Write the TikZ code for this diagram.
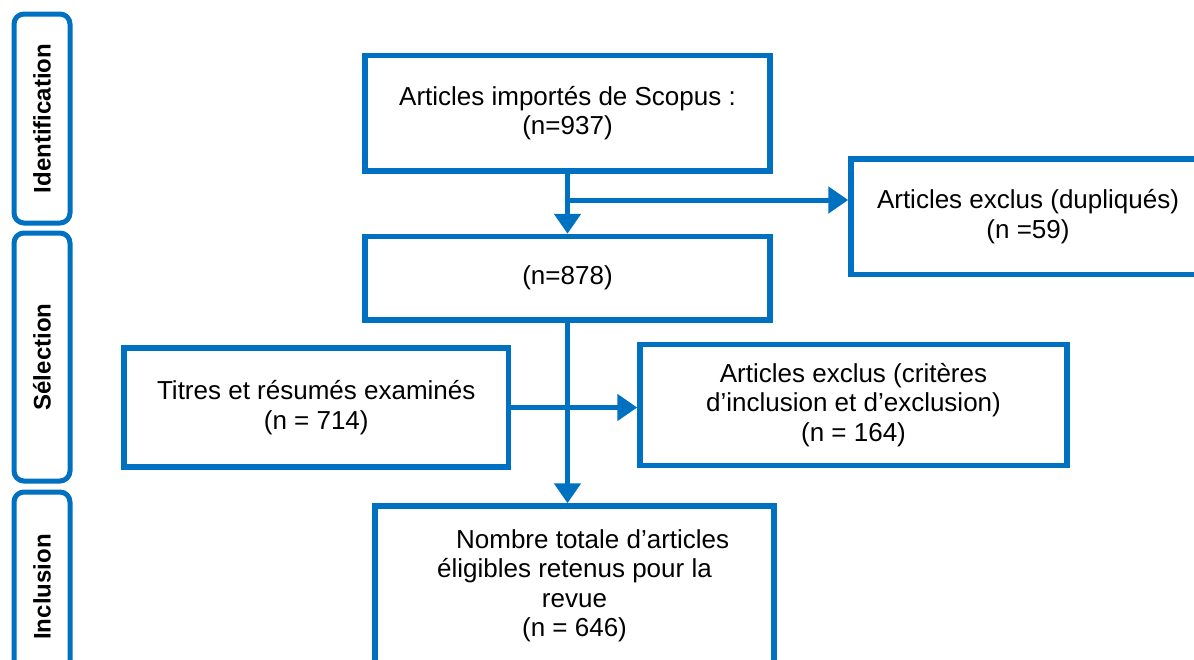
\documentclass[tikz,border=0pt]{standalone}
\usepackage{fontspec}
\setmainfont{Liberation Sans}
\usetikzlibrary{arrows.meta}
\definecolor{flowblue}{RGB}{0,112,192}

\begin{document}
\begin{tikzpicture}[x=1pt,y=-1pt,
  box/.style={draw=flowblue,line width=5.5pt,align=center,inner sep=0pt,
    font=\fontsize{26}{29.5}\selectfont},
  phase/.style={draw=flowblue,line width=5pt,rounded corners=10pt,inner sep=0pt,
    minimum height=56pt,rotate=90,font=\bfseries\fontsize{24}{28}\selectfont},
  flow/.style={draw=flowblue,line width=5pt,-{Triangle[length=20pt,width=26pt]}}]
\useasboundingbox (0,0) rectangle (1194,659);
\clip (0,0) rectangle (1194,659); %page

% phases on the left
\node[phase,minimum width=209pt] (identification) at (42,118.5) {Identification};
\node[phase,minimum width=248pt] (selection) at (42,357) {Sélection};
\node[phase,minimum width=190pt] (inclusion) at (42,587) {Inclusion};

% boxes
\node[box,minimum width=405pt,minimum height=115.5pt] (imported) at (567.5,113.25)
  {Articles importés de Scopus :\\(n=937)};
\node[box,minimum width=405pt,minimum height=83.5pt] (screened) at (567.5,278.25)
  {(n=878)};
\node[box,minimum width=354pt,minimum height=115.5pt] (duplicates) at (1028,216.75)
  {Articles exclus (dupliqués)\\(n =59)};
\node[box,minimum width=384.5pt,minimum height=119pt] (titles) at (316.25,407.5)
  {Titres et résumés examinés\\(n = 714)};
\node[box,minimum width=427pt,minimum height=121pt] (excluded) at (853.5,405)
  {Articles exclus (critères\\d’inclusion et d’exclusion)\\(n = 164)};
\node[box,minimum width=399pt,minimum height=160pt] (included) at (574.5,586)
  {\hspace*{1.4em}Nombre totale d’articles\\éligibles retenus pour la\\revue\\(n = 646)};

% arrows
\coordinate (split) at (567.5,200);
\draw[flow] (imported) -- (screened);
\draw[flow] (split) -- (split -| duplicates.west); %dupliques
\draw[flow] (screened) -- (screened.south |- included.north);
\draw[flow] (titles.east) -- (titles.east -| excluded.west); %criteres
\end{tikzpicture}
\end{document}
